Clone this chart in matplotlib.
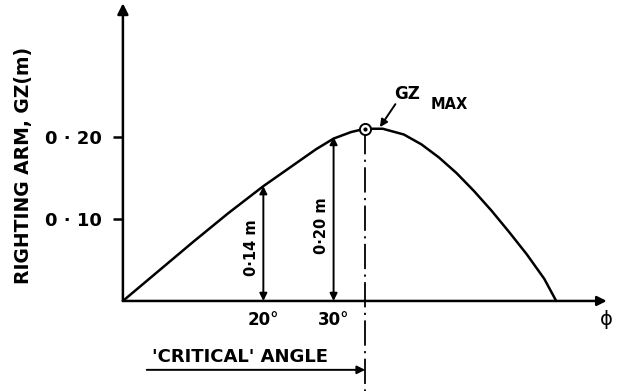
import matplotlib
matplotlib.use("Agg")
import matplotlib.pyplot as plt

# righting arm curve, heel angle (deg) vs GZ (m)
heel_deg = [0, 5, 10, 15, 20, 25, 27.5, 30, 32.5, 34.5, 37, 40, 42.5, 45, 47.5, 50, 52.5, 55, 57.5, 60, 61.7]
gz_m = [0, 0.036, 0.072, 0.107, 0.140, 0.170, 0.185, 0.198, 0.206, 0.210, 0.210, 0.203, 0.191,
        0.175, 0.156, 0.134, 0.110, 0.084, 0.057, 0.027, 0]

ytick_vals = [0.10, 0.20]
ytick_labels = ["0 · 10", "0 · 20"]
xtick_vals = [20, 30]
xtick_labels = ["20°", "30°"]

gz_max_angle = 34.5
gz_max = 0.210

# arrows marking two read-off values
marked_angles = [20, 30]
marked_gz = [0.14, 0.20]
marked_text = ["0·14 m", "0·20 m"]

font = {"family": "DejaVu Sans", "weight": "bold"}

fig = plt.figure(figsize=(6.18, 3.91), dpi=100)
ax = fig.add_axes([0, 0, 1, 1])
ax.set_xlim(-17.5, 70.5)
ax.set_ylim(-0.1098, 0.367)

lw = 1.8
for s in ["top", "right"]:
    ax.spines[s].set_visible(False)
# spines only position the ticks, the axes lines are drawn as arrows
for s in ["left", "bottom"]:
    ax.spines[s].set_position(("data", 0))
    ax.spines[s].set_color("none")

ax.annotate("", xy=(0, 0.363), xytext=(0, 0),
            arrowprops=dict(arrowstyle="-|>", lw=lw, color="black", mutation_scale=16,
                            shrinkA=0, shrinkB=0))
ax.annotate("", xy=(68.9, 0), xytext=(0, 0),
            arrowprops=dict(arrowstyle="-|>", lw=lw, color="black", mutation_scale=14,
                            shrinkA=0, shrinkB=0))

ax.set_yticks(ytick_vals)
ax.set_yticklabels(ytick_labels, fontsize=13, **font)
ax.tick_params(axis="y", length=7, width=lw, pad=8, color="black")
ax.set_xticks(xtick_vals)
ax.set_xticklabels(xtick_labels, fontsize=12, **font)
ax.tick_params(axis="x", length=0, pad=7)

ax.text(-14.2, 0.165, "RIGHTING ARM, GZ(m)", rotation=90, ha="center", va="center",
        fontsize=13.5, **font)

ax.plot(heel_deg, gz_m, color="black", lw=lw, solid_capstyle="round")

for a, g, t in zip(marked_angles, marked_gz, marked_text):
    ax.annotate("", xy=(a, g), xytext=(a, 0),
                arrowprops=dict(arrowstyle="<|-|>", lw=1.4, color="black",
                                mutation_scale=11, shrinkA=0, shrinkB=0))
    ax.text(a - 1.7, g * 0.46, t, rotation=90, ha="center", va="center",
            fontsize=10.5, **font)

# GZ max and the critical angle
ax.plot([gz_max_angle, gz_max_angle], [gz_max, -0.11], color="black", lw=1.3,
        linestyle=(0, (14, 3, 1.2, 3)))
ax.plot(gz_max_angle, gz_max, marker="o", ms=8, mfc="white", mec="black", mew=1.4)
ax.plot(gz_max_angle, gz_max, marker="o", ms=2, color="black")

ax.annotate("", xy=(36.6, 0.212), xytext=(38.8, 0.240),
            arrowprops=dict(arrowstyle="-|>", lw=1.4, color="black", mutation_scale=11,
                            shrinkA=0, shrinkB=0))
ax.text(40.5, 0.252, "GZ", ha="center", va="center", fontsize=12, **font)
ax.text(46.5, 0.240, "MAX", ha="center", va="center", fontsize=10.5, **font)

ax.annotate("", xy=(gz_max_angle, -0.084), xytext=(3.4, -0.084),
            arrowprops=dict(arrowstyle="-|>", lw=1.4, color="black", mutation_scale=12,
                            shrinkA=0, shrinkB=0))
ax.text(4.1, -0.068, "'CRITICAL' ANGLE", ha="left", va="center", fontsize=13, **font)

ax.text(68.9, -0.023, "ϕ", ha="center", va="center", fontsize=14)

fig.savefig("out.png", dpi=100)
